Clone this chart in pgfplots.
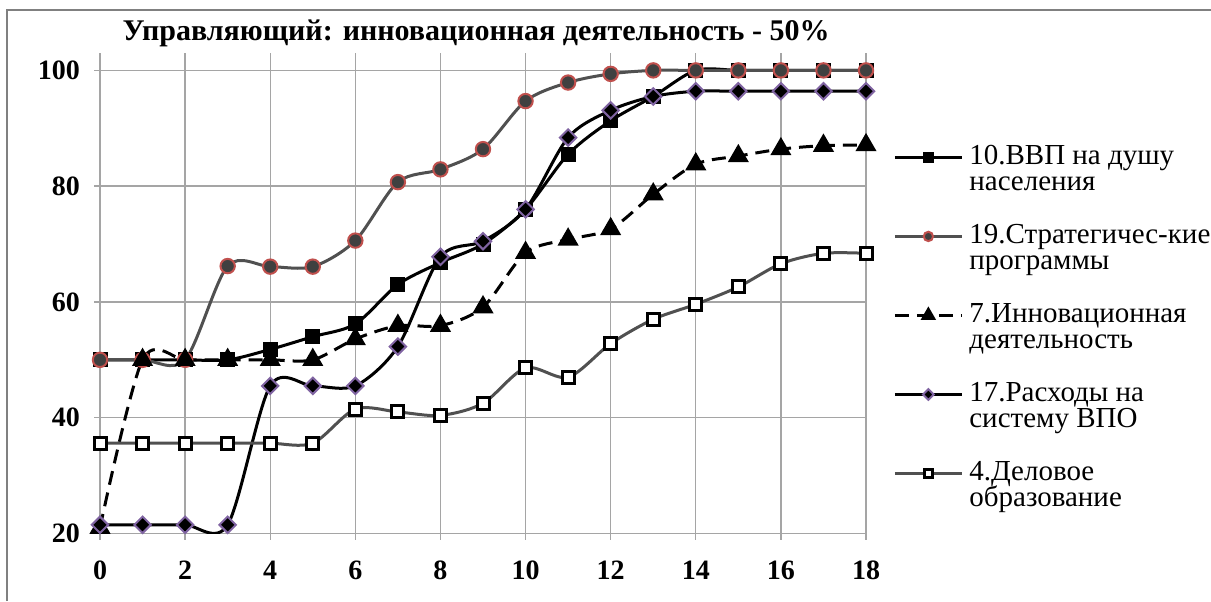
\documentclass[border=0pt]{standalone}
\usepackage{fontspec}
\setmainfont{Liberation Serif}
\usepackage{pgfplots}
\pgfplotsset{compat=1.18}

\definecolor{gridgray}{RGB}{165,165,165}
\definecolor{framegray}{RGB}{128,128,128}
\definecolor{darkline}{RGB}{80,80,80}
\definecolor{circfill}{RGB}{64,64,64}
\definecolor{circedge}{RGB}{192,80,77}
\definecolor{diamedge}{RGB}{128,100,162}

\begin{document}
\begin{tikzpicture}
\path[use as bounding box] (0,0) rectangle (605.5pt,-300.5pt);
\draw[framegray, line width=1pt] (3.5pt,-300.5pt) -- (3.5pt,-5pt) -- (605.5pt,-5pt);
\begin{axis}[
  at={(50pt,-266.75pt)}, anchor=south west,
  scale only axis, width=383pt, height=240.25pt,
  xmin=0, xmax=18, ymin=20, ymax=103,
  xtick={0,2,...,18}, ytick={20,40,...,100},
  grid=major, major grid style={gridgray, line width=0.7pt},
  axis x line*=bottom, axis y line*=left,
  axis line style={gridgray, line width=0.7pt, -},
  tick style={gridgray, line width=0.7pt},
  tick align=outside, major tick length=3pt,
  /pgf/number format/assume math mode=true,
  tick label style={font=\bfseries\fontsize{14}{16}\selectfont, text=black},
  xticklabel style={yshift=-7pt},
  yticklabel style={xshift=-3.5pt},
  title={Управляющий: инновационная деятельность - 50\%},
  title style={font=\bfseries\fontsize{15}{17}\selectfont, at={(0.491,1.023)}, anchor=base, yshift=-5.5pt},
  legend style={at={(1.0352,0.811)}, anchor=north west, draw=none, fill=none,
    inner sep=0pt, row sep=0pt, column sep=3pt,
    nodes={inner sep=0pt, text height=9.9pt, text depth=3.27pt, font=\fontsize{14.5}{16}\selectfont},
    cells={anchor=west}},
  legend image code/.code={\draw[mark repeat=2,mark phase=2] plot coordinates {(0pt,0pt) (16.75pt,0pt) (33.5pt,0pt)};},
  legend image post style={every mark/.append style={scale=0.65}},
  every axis plot/.append style={smooth, line width=1.5pt},
]
% 10. GDP per capita
\addplot[black, mark=square*, mark size=3pt, mark options={solid, fill=black, draw=black}]
  coordinates {(0,50)(1,50)(2,50)(3,50)(4,51.8)(5,54)(6,56.2)(7,63)(8,66.8)(9,70)
  (10,76)(11,85.5)(12,91.3)(13,95.5)(14,100)(15,100)(16,100)(17,100)(18,100)};
\addlegendentry{10.ВВП на душу}
\addlegendimage{empty legend}\addlegendentry{населения}
\addlegendimage{empty legend}\addlegendentry{\mbox{}}
% 19. Strategic programmes
\addplot[darkline, mark=*, mark size=3.6pt, mark options={solid, fill=circfill, draw=circedge, line width=1pt}]
  coordinates {(0,50)(1,50)(2,50)(3,66.2)(4,66.1)(5,66.1)(6,70.6)(7,80.7)(8,82.9)(9,86.4)
  (10,94.7)(11,97.9)(12,99.4)(13,100)(14,100)(15,100)(16,100)(17,100)(18,100)};
\addlegendentry{19.Стратегичес-кие}
\addlegendimage{empty legend}\addlegendentry{программы}
\addlegendimage{empty legend}\addlegendentry{\mbox{}}
% 7. Innovation activity
\addplot[black, dash pattern=on 7pt off 4pt, mark=triangle*, mark size=4.6pt, mark options={solid, fill=black}]
  coordinates {(0,21)(1,50)(2,50)(3,50)(4,50)(5,50)(6,53.6)(7,55.9)(8,55.9)(9,59.1)
  (10,68.5)(11,70.8)(12,72.6)(13,78.6)(14,83.8)(15,85.2)(16,86.4)(17,87)(18,87.1)};
\addlegendentry{7.Инновационная}
\addlegendimage{empty legend}\addlegendentry{деятельность}
\addlegendimage{empty legend}\addlegendentry{\mbox{}}
% 17. Higher education spending
\addplot[black, mark=square*, mark size=2.9pt, mark options={solid, rotate=45, fill=black, draw=diamedge, line width=1pt}]
  coordinates {(0,21.5)(1,21.5)(2,21.5)(3,21.5)(4,45.5)(5,45.5)(6,45.5)(7,52.3)(8,67.8)(9,70.5)
  (10,76)(11,88.4)(12,93.1)(13,95.5)(14,96.4)(15,96.4)(16,96.4)(17,96.4)(18,96.4)};
\addlegendentry{17.Расходы на}
\addlegendimage{empty legend}\addlegendentry{систему ВПО}
\addlegendimage{empty legend}\addlegendentry{\mbox{}}
% 4. Business education
\addplot[darkline, mark=square*, mark size=3pt, mark options={solid, fill=white, draw=black, line width=1.5pt}]
  coordinates {(0,35.6)(1,35.6)(2,35.6)(3,35.6)(4,35.6)(5,35.6)(6,41.5)(7,41)(8,40.4)(9,42.5)
  (10,48.6)(11,47)(12,52.8)(13,57)(14,59.6)(15,62.6)(16,66.6)(17,68.4)(18,68.4)};
\addlegendentry{4.Деловое}
\addlegendimage{empty legend}\addlegendentry{образование}
\end{axis}
\end{tikzpicture}
\end{document}
